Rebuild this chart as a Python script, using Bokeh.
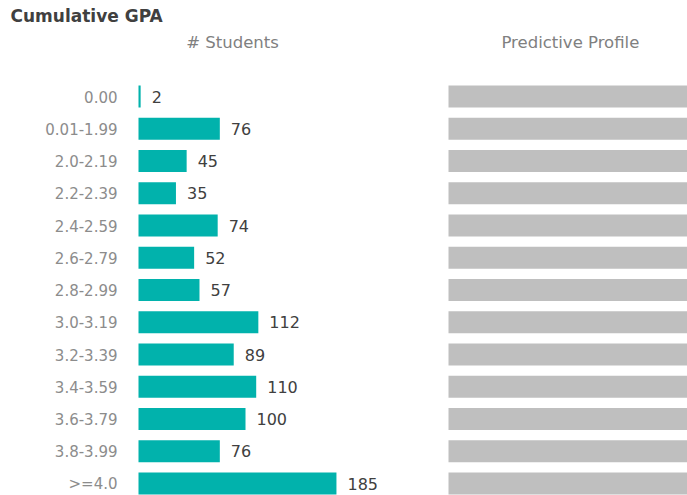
from bokeh.plotting import figure
from bokeh.models import Range1d, ColumnDataSource, Label
from bokeh.core.properties import value
from bokeh.embed import file_html
from bokeh.resources import INLINE

# ---- data ----
categories = ["0.00", "0.01-1.99", "2.0-2.19", "2.2-2.39", "2.4-2.59", "2.6-2.79",
              "2.8-2.99", "3.0-3.19", "3.2-3.39", "3.4-3.59", "3.6-3.79", "3.8-3.99", ">=4.0"]
students = [2, 76, 45, 35, 74, 52, 57, 112, 89, 110, 100, 76, 185]
profile = [1, 1, 1, 1, 1, 1, 1, 1, 1, 1, 1, 1, 1]
title_text = "Cumulative GPA"
header_left = "# Students"
header_right = "Predictive Profile"

TEAL = "#01B2AC"
GRAY = "#BFBFBF"
FONT = "DejaVu Sans"

W, H = 687, 495
rows = list(range(len(categories)))

src = ColumnDataSource(dict(
    row=rows,
    cat=categories,
    n=students,
    nlab=[str(v) for v in students],
    prof=profile,
))

p = figure(width=W, height=H, output_backend="svg", toolbar_location=None,
           x_range=Range1d(-128.97, 513.08), y_range=Range1d(12.372, -2.977),
           min_border=0, min_border_left=0, min_border_right=0,
           min_border_top=0, min_border_bottom=0)
p.extra_x_ranges = {"profile": Range1d(-1.8745, 1.0)}
p.axis.visible = False
p.grid.visible = False
p.outline_line_color = None
p.background_fill_color = "white"
p.border_fill_color = "white"

# teal bars
p.hbar(y="row", left=0, right="n", height=0.68, source=src,
       fill_color=TEAL, line_color=None)
# grey predictive profile bars
p.hbar(y="row", left=0, right="prof", height=0.68, source=src,
       fill_color=GRAY, line_color=None, x_range_name="profile")

# value labels
p.text(x="n", y="row", text="nlab", source=src, x_offset=11,
       text_baseline="middle", text_align="left",
       text_font_size="16px", text_color="#404040", text_font=value(FONT))
# category labels
p.text(x=0, y="row", text="cat", source=src, x_offset=-21,
       text_baseline="middle", text_align="right",
       text_font_size="15px", text_color="#8C8C8C", text_font=value(FONT))

# title and headers
p.add_layout(Label(x=0, y=-2.481, x_offset=-128, text=title_text,
                   text_font=FONT, text_font_size="17px", text_font_style="bold",
                   text_color="#404040", text_baseline="middle", text_align="left"))
p.add_layout(Label(x=87.85, y=-1.674, text=header_left,
                   text_font=FONT, text_font_size="16.5px",
                   text_color="#808080", text_baseline="middle", text_align="center"))
p.add_layout(Label(x=0.51, y=-1.674, text=header_right, x_range_name="profile",
                   text_font=FONT, text_font_size="16.5px",
                   text_color="#808080", text_baseline="middle", text_align="center"))

open("out.html", "w").write(file_html(p, INLINE))
